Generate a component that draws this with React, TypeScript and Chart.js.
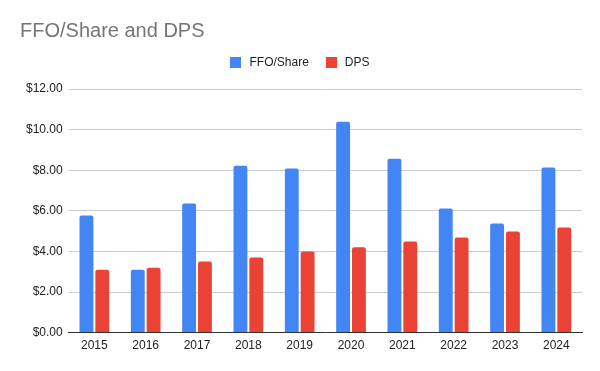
import React, { useEffect, useRef } from "react";
import { Chart, registerables } from "chart.js";

Chart.register(...registerables);

const categories = ["2015", "2016", "2017", "2018", "2019", "2020", "2021", "2022", "2023", "2024"];
const ffoPerShare = [5.77, 3.1, 6.36, 8.22, 8.08, 10.39, 8.57, 6.11, 5.38, 8.13];
const dps = [3.1, 3.2, 3.5, 3.7, 4.0, 4.2, 4.49, 4.69, 4.98, 5.18];
const yTicks = [0, 2, 4, 6, 8, 10, 12];
const seriesColors = ["#4285F4", "#EA4335"];

const FONT = "'Liberation Sans', Arial, sans-serif";

const customLegend = {
  id: "customLegend",
  afterDraw(chart: any) {
    const ctx = chart.ctx as CanvasRenderingContext2D;
    const box = 11;
    const gapBoxText = 8;
    const gapItems = 17;
    const y = 62;
    ctx.save();
    ctx.font = `12px ${FONT}`;
    const items = chart.data.datasets.map((d: any) => ({
      label: d.label as string,
      color: d.backgroundColor as string,
      w: ctx.measureText(d.label).width,
    }));
    let total = 0;
    items.forEach((it: any, i: number) => {
      total += box + gapBoxText + it.w + (i < items.length - 1 ? gapItems : 0);
    });
    let x = chart.width / 2 - total / 2;
    ctx.textBaseline = "middle";
    ctx.textAlign = "left";
    items.forEach((it: any) => {
      ctx.fillStyle = it.color;
      ctx.fillRect(Math.round(x), Math.round(y - box / 2), box, box);
      ctx.fillStyle = "#222222";
      ctx.fillText(it.label, x + box + gapBoxText, y + 0.5);
      x += box + gapBoxText + it.w + gapItems;
    });
    ctx.restore();
  },
};

export default function App() {
  const ref = useRef<HTMLCanvasElement | null>(null);
  useEffect(() => {
    document.body.style.margin = "0";
    const ctx = ref.current!;
    const chart = new Chart(ctx, {
      type: "bar",
      data: {
        labels: categories,
        datasets: [
          {
            label: "FFO/Share",
            data: ffoPerShare,
            backgroundColor: seriesColors[0],
            borderRadius: { topLeft: 2, topRight: 2, bottomLeft: 0, bottomRight: 0 },
            borderSkipped: false,
            categoryPercentage: 0.617,
            barPercentage: 0.875,
          },
          {
            label: "DPS",
            data: dps,
            backgroundColor: seriesColors[1],
            borderRadius: { topLeft: 2, topRight: 2, bottomLeft: 0, bottomRight: 0 },
            borderSkipped: false,
            categoryPercentage: 0.617,
            barPercentage: 0.875,
          },
        ],
      },
      options: {
        responsive: false,
        animation: false,
        layout: { padding: { left: 20, right: 18, top: 0, bottom: 12 } },
        plugins: {
          title: {
            display: true,
            text: "FFO/Share and DPS",
            align: "start",
            color: "#757575",
            font: { family: FONT, size: 20, weight: "normal" },
            padding: { top: 19, bottom: 46 },
          },
          legend: { display: false },
          tooltip: { enabled: false },
        },
        scales: {
          x: {
            grid: { display: false, drawTicks: false },
            border: { display: true, color: "#333333", width: 1 },
            ticks: {
              color: "#222222",
              font: { family: FONT, size: 12 },
              padding: 6,
            },
          },
          y: {
            min: 0,
            max: 12,
            afterBuildTicks: (axis: any) => {
              axis.ticks = yTicks.map((v) => ({ value: v }));
            },
            grid: { color: "#cccccc", drawTicks: false },
            border: { display: false },
            ticks: {
              color: "#222222",
              font: { family: FONT, size: 12 },
              padding: 6,
              callback: (v: any) => "$" + Number(v).toFixed(2),
            },
          },
        },
      },
      plugins: [customLegend],
    });
    return () => chart.destroy();
  }, []);
  return <canvas ref={ref} width={600} height={371} style={{ display: "block" }} />;
}
